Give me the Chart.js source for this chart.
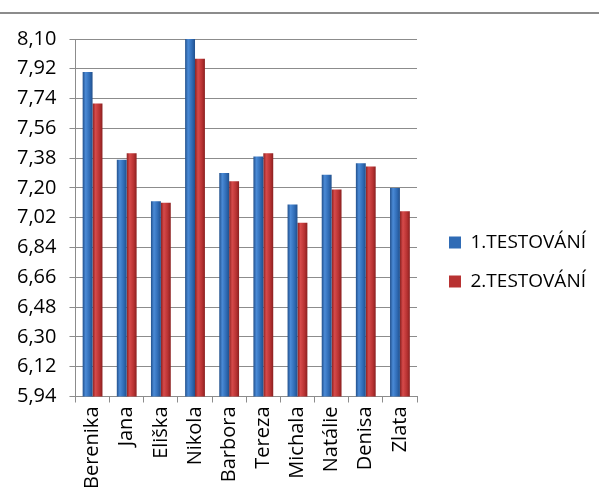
<!DOCTYPE html>
<html>
<head>
<meta charset="utf-8">
<script src="https://cdn.jsdelivr.net/npm/chart.js@4"></script>
<style>
  body { margin: 0; background: #fff; }
  #topline { position: absolute; left: 0; top: 12px; width: 599px; height: 2px; background: #8c8c8c; }
  #wrap { position: absolute; left: 0; top: 14px; width: 599px; height: 490px; }
</style>
</head>
<body>
<div id="topline"></div>
<div id="wrap"><canvas id="mycanvas"></canvas></div>
<script>
var names = ['Berenika', 'Jana', 'Eliška', 'Nikola', 'Barbora', 'Tereza', 'Michala', 'Natálie', 'Denisa', 'Zlata'];
var test1 = [7.90, 7.37, 7.12, 8.10, 7.29, 7.39, 7.10, 7.28, 7.35, 7.20];
var test2 = [7.71, 7.41, 7.11, 7.98, 7.24, 7.41, 6.99, 7.19, 7.33, 7.06];
var seriesNames = ['1.TESTOVÁNÍ', '2.TESTOVÁNÍ'];
var yMin = 5.94, yMax = 8.10, yStep = 0.18;

var catPct = 0.58;
var fontName = "'Open Sans', sans-serif";

// cylinder-ish shading across each bar
function barFill(base, light, dark) {
    return function(c) {
        var chart = c.chart, x = chart.scales.x;
        if (!chart.chartArea || !x) return base;
        var cw = (x.right - x.left) / names.length;
        var w = cw * catPct / 2;
        var cx = x.getPixelForValue(c.dataIndex) + (c.datasetIndex === 0 ? -w / 2 : w / 2);
        var g = chart.ctx.createLinearGradient(cx - w / 2, 0, cx + w / 2, 0);
        g.addColorStop(0, dark);
        g.addColorStop(0.3, light);
        g.addColorStop(0.7, base);
        g.addColorStop(1, dark);
        return g;
    };
}

var solid = ['#2f6bb5', '#b83232'];

var chartdata = {
    labels: names,
    datasets: [
        {
            label: seriesNames[0],
            data: test1,
            backgroundColor: barFill('#2f6bb5', '#4a8ad6', '#22508c'),
            borderWidth: 0
        },
        {
            label: seriesNames[1],
            data: test2,
            backgroundColor: barFill('#b83232', '#d64a4a', '#8a2020'),
            borderWidth: 0
        }
    ]
};

var ctx = document.getElementById('mycanvas');
var BarGraph = new Chart(ctx, {
    type: 'bar',
    data: chartdata,
    options: {
        responsive: true,
        maintainAspectRatio: false,
        animation: false,
        categoryPercentage: catPct,
        barPercentage: 1,
        layout: { padding: { top: 17, left: 4, right: 3, bottom: 11 } },
        plugins: {
            tooltip: { enabled: false },
            legend: {
                position: 'right',
                maxWidth: 220,
                labels: {
                    boxWidth: 12,
                    boxHeight: 12,
                    padding: 20,
                    color: '#000',
                    font: { family: fontName, size: 19 },
                    generateLabels: function(chart) {
                        var items = Chart.defaults.plugins.legend.labels.generateLabels(chart);
                        items.forEach(function(it, i) {
                            it.fillStyle = solid[i];
                            it.strokeStyle = solid[i];
                            it.lineWidth = 0;
                        });
                        return items;
                    }
                }
            }
        },
        scales: {
            x: {
                grid: { drawOnChartArea: false, drawTicks: true, tickLength: 6, color: '#8c8c8c', offset: true },
                border: { color: '#8c8c8c' },
                ticks: { color: '#000', font: { family: fontName, size: 20 }, minRotation: 90, maxRotation: 90, autoSkip: false, padding: 4 }
            },
            y: {
                min: yMin,
                max: yMax,
                grid: { color: '#8c8c8c', tickLength: 6 },
                border: { color: '#8c8c8c' },
                ticks: {
                    stepSize: yStep,
                    color: '#000',
                    font: { family: fontName, size: 20 },
                    padding: 13,
                    callback: function(v) { return v.toFixed(2).replace('.', ','); }
                }
            },
            gap: {
                position: 'right',
                display: true,
                grid: { display: false },
                border: { display: false },
                ticks: { display: false },
                afterFit: function(s) { s.width = 12; }
            }
        }
    }
});
</script>
</body>
</html>
